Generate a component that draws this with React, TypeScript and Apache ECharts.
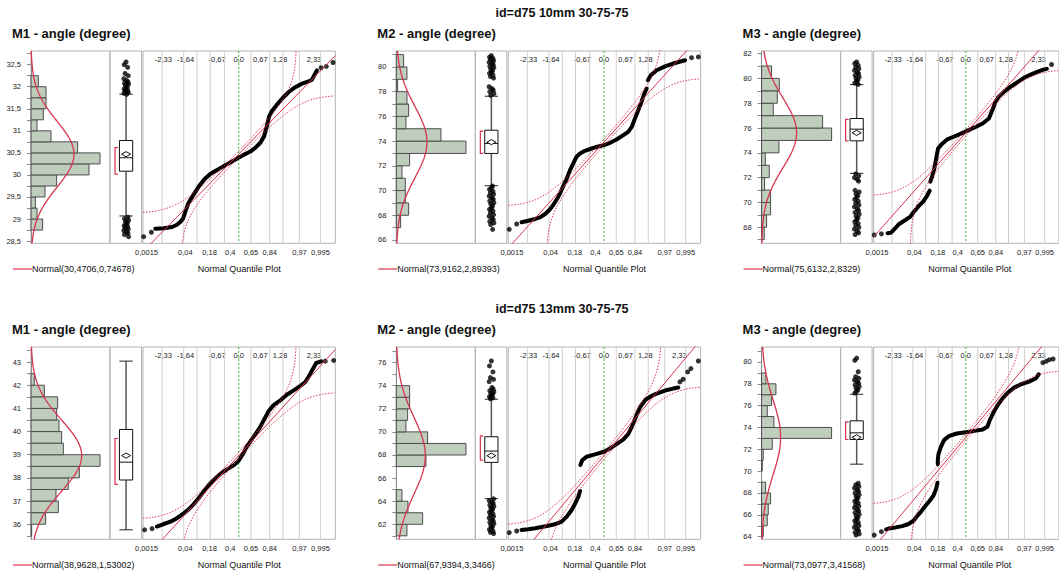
import React, { useEffect, useRef } from 'react';
import * as echarts from 'echarts';

const FONT = '"Liberation Sans", Arial, Helvetica, sans-serif';
const RED = '#d8344f';
const BAR_FILL = '#bfcdbd';
const BAR_STROKE = '#4d4d4d';
const GRID_COLOR = '#d0d0d0';
const FRAME = '#b4b4b4';

// ---- texts ----
const HEADERS = ['id=d75 10mm 30-75-75', 'id=d75 13mm 30-75-75'];
const TITLES = ['M1 - angle (degree)', 'M2 - angle (degree)', 'M3 - angle (degree)'];
const QQ_LABEL = 'Normal Quantile Plot';

// ---- quantile axis (normal quantile z) ----
const Q_MIN = -2.96;
const Q_MAX = 2.99;
const TOP_Z = [-2.33, -1.64, -0.67, 0, 0.67, 1.28, 2.33];
const TOP_Z_SHORT = [-2.33, -1.64, -0.67, 0, 0.67, 1.28];
const TOP_LABELS = ['-2,33', '-1,64', '-0,67', '0,0', '0,67', '1,28', '2,33'];
const BOTTOM_Z = [-2.85, -1.65, -0.9, -0.26, 0.38, 0.96, 1.88, 2.53];
const BOTTOM_LABELS = ['0,0015', '0,04', '0,18', '0,4', '0,65', '0,84', '0,97', '0,995'];
const GRID_Z = [-2.37, -1.7, -1.29, -0.88, -0.44, 0.38, 0.96, 1.37, 1.88, 2.53];
const BAND_D = 0.037;
const HIST_MAX = 237;

// ---- fitted normal parameters (legend) ----
const MEANS = [30.4706, 73.9162, 75.6132, 38.9628, 67.9394, 73.0977];
const SDS = [0.74678, 2.89393, 2.8329, 1.53002, 3.3466, 3.41568];
const CURVE_PEAKS = [129, 92, 105, 152, 87, 57];

// ---- axis ranges & tick labels ----
const RANGES = [[28.45, 32.81], [65.73, 81.29], [66.71, 82.21], [35.35, 43.65], [60.7, 77.35], [63.76, 81.37]];
const Y_LABELS = [
  [28.5, 29, 29.5, 30, 30.5, 31, 31.5, 32, 32.5],
  [66, 68, 70, 72, 74, 76, 78, 80],
  [68, 70, 72, 74, 76, 78, 80, 82],
  [36, 37, 38, 39, 40, 41, 42, 43],
  [62, 64, 66, 68, 70, 72, 74, 76],
  [64, 66, 68, 70, 72, 74, 76, 78, 80],
];
const Y_TICKS = [
  [28.5, 28.75, 29, 29.25, 29.5, 29.75, 30, 30.25, 30.5, 30.75, 31, 31.25, 31.5, 31.75, 32, 32.25, 32.5, 32.75],
  [66, 67, 68, 69, 70, 71, 72, 73, 74, 75, 76, 77, 78, 79, 80, 81],
  [67, 68, 69, 70, 71, 72, 73, 74, 75, 76, 77, 78, 79, 80, 81, 82],
  [35.5, 36, 36.5, 37, 37.5, 38, 38.5, 39, 39.5, 40, 40.5, 41, 41.5, 42, 42.5, 43, 43.5],
  [61, 62, 63, 64, 65, 66, 67, 68, 69, 70, 71, 72, 73, 74, 75, 76, 77],
  [64, 65, 66, 67, 68, 69, 70, 71, 72, 73, 74, 75, 76, 77, 78, 79, 80, 81],
];

// ---- histograms (bin lower edge + bar length) ----
const BIN_W = [0.25, 1, 1, 0.5, 1, 1];
const A1_BIN_LO = [28.75, 29, 29.25, 29.5, 29.75, 30, 30.25, 30.5, 30.75, 31, 31.25, 31.5, 31.75, 32];
const A1_COUNTS = [35, 18, 13, 42, 77, 174, 207, 140, 60, 18, 37, 45, 45, 22];
const A2_BIN_LO = [67, 68, 69, 70, 71, 72, 73, 74, 75, 76, 77, 78, 79, 80];
const A2_COUNTS = [13, 37, 27, 27, 17, 40, 209, 134, 29, 37, 32, 4, 32, 22];
const A3_BIN_LO = [67, 68, 69, 70, 71, 72, 73, 74, 75, 76, 77, 78, 79, 80];
const A3_COUNTS = [8, 15, 27, 27, 9, 23, 11, 52, 210, 183, 35, 47, 53, 30];
const B1_BIN_LO = [35.5, 36, 36.5, 37, 37.5, 38, 38.5, 39, 39.5, 40, 40.5, 41, 41.5, 42];
const B1_COUNTS = [2, 44, 82, 75, 112, 145, 207, 97, 92, 84, 77, 80, 40, 10];
const B2_BIN_LO = [61, 62, 63, 64, 67, 68, 69, 70, 71, 72, 73];
const B2_COUNTS = [32, 79, 35, 17, 89, 209, 94, 29, 34, 40, 40];
const B3_BIN_LO = [64, 65, 66, 67, 68, 70, 71, 72, 73, 74, 75, 76, 77, 78];
const B3_COUNTS = [5, 17, 20, 27, 12, 2, 5, 32, 210, 37, 17, 30, 43, 13];

// ---- box plots: q1, q3, median, whisker low, whisker high, shortest-half low, high ----
const A1_BOX = [30.085, 30.78, 30.39, 29.07, 31.83, 30.02, 30.62];
const A2_BOX = [73.0, 74.88, 73.81, 70.39, 77.63, 73.0, 74.8];
const A3_BOX = [74.97, 76.77, 75.91, 72.35, 79.5, 74.97, 76.7];
const B1_BOX = [37.91, 40.09, 38.68, 35.76, 43.04, 37.72, 39.7];
const B2_BOX = [67.36, 69.58, 68.34, 64.22, 72.83, 67.56, 69.66];
const B3_BOX = [72.9, 74.61, 73.51, 70.64, 77.04, 72.9, 74.51];

// ---- box plot outliers ----
const A1_OUT = [32.56, 32.5, 32.44, 32.3, 32.25, 32.18, 32.14, 32.11, 32.08, 32.06, 32.03, 32.0, 31.97, 31.95, 31.92, 31.9, 31.87, 31.85, 31.83,
  29.04, 29.01, 28.97, 28.94, 28.91, 28.88, 28.85, 28.83, 28.8, 28.77, 28.74, 28.71, 28.68, 28.65, 28.6];
const A2_OUT = [80.92, 80.8, 80.7, 80.62, 80.5, 80.38, 80.3, 80.18, 80.05, 79.95, 79.82, 79.7, 79.6, 79.48, 79.35, 79.22, 79.1,
  78.4, 78.25, 78.12, 78.0, 77.85, 77.7,
  70.36, 70.22, 70.1, 69.95, 69.82, 69.7, 69.55, 69.42, 69.3, 69.15, 69.02, 68.9, 68.75, 68.6, 68.48, 68.35, 68.2, 68.05, 67.92, 67.78, 67.65, 67.5, 67.38, 67.25, 66.85];
const A3_OUT = [81.33, 81.2, 81.05, 80.9, 80.78, 80.65, 80.5, 80.38, 80.25, 80.12, 80.0, 79.88, 79.75, 79.62, 79.52,
  72.3, 72.15, 72.0, 71.85, 71.72,
  70.98, 70.85, 70.7, 70.55, 70.4, 70.25, 70.1, 69.95, 69.8, 69.65, 69.5, 69.35, 69.2, 69.05, 68.9, 68.75, 68.6, 68.45, 68.3, 68.15, 68.0, 67.85, 67.7, 67.55, 67.42];
const B1_OUT: number[] = [];
const B2_OUT = [76.14, 75.71, 75.19, 74.7, 74.55, 74.35, 73.85, 73.7, 73.58, 73.46, 73.35, 73.25, 73.15, 73.05, 72.95, 72.87,
  64.2, 64.05, 63.92, 63.8, 63.68, 63.55, 63.42, 63.3, 63.18, 63.05, 62.92, 62.8, 62.68, 62.55, 62.42, 62.3, 62.18, 62.05, 61.92, 61.8, 61.68, 61.55, 61.42, 61.3, 61.2];
const B3_OUT = [80.35, 80.15, 79.1, 78.65, 78.5, 78.35, 78.2, 78.05, 77.9, 77.75, 77.6, 77.45, 77.3, 77.15,
  68.9, 68.75, 68.6, 68.45, 68.3, 68.15, 68.0, 67.85, 67.7, 67.55, 67.4, 67.25, 67.1, 66.95, 66.8, 66.65, 66.5, 66.35, 66.2, 66.05,
  65.9, 65.75, 65.6, 65.45, 65.3, 65.15, 65.0, 64.85, 64.7, 64.55, 64.4, 64.25, 64.15];
const JITTER = [0, -0.06, 0.05, -0.03, 0.07, -0.07, 0.02, 0.06, -0.05, 0.08, -0.02, 0.04];

// ---- normal quantile plots: [z, value] (dense runs as segments, sparse points separately) ----
const A1_QQ = [[
  [-2.58, 28.78], [-2.32, 28.79], [-2.06, 28.82], [-1.91, 28.87], [-1.8, 28.94], [-1.72, 29.01], [-1.64, 29.19], [-1.55, 29.37],
  [-1.39, 29.56], [-1.24, 29.73], [-1.06, 29.9], [-0.88, 30.02], [-0.67, 30.11], [-0.46, 30.2], [-0.26, 30.28], [-0.05, 30.37],
  [0.15, 30.45], [0.36, 30.53], [0.52, 30.62], [0.67, 30.73], [0.79, 30.88], [0.88, 31.13], [0.94, 31.32], [1.03, 31.45],
  [1.19, 31.6], [1.37, 31.75], [1.55, 31.88], [1.75, 31.99], [1.96, 32.07], [2.16, 32.12], [2.27, 32.16], [2.34, 32.26], [2.42, 32.37],
]];
const A1_TAIL = [[-2.94, 28.6], [-2.7, 28.7], [2.55, 32.43], [2.71, 32.46], [2.92, 32.55]];
const A2_QQ = [[
  [-2.55, 67.43], [-2.34, 67.56], [-2.13, 67.7], [-1.98, 67.83], [-1.82, 68.1], [-1.69, 68.42], [-1.57, 68.83], [-1.41, 69.5],
  [-1.29, 70.17], [-1.15, 70.98], [-1.05, 71.65], [-0.95, 72.19], [-0.85, 72.73], [-0.74, 73.0], [-0.59, 73.21], [-0.38, 73.4],
  [-0.18, 73.56], [0, 73.67], [0.19, 73.86], [0.39, 74.13], [0.6, 74.48], [0.75, 74.75], [0.86, 75.15], [0.96, 75.83],
  [1.06, 76.5], [1.16, 77.17], [1.25, 77.85], [1.32, 78.25],
], [
  [1.36, 78.92], [1.45, 79.33], [1.63, 79.73], [1.89, 80.05], [2.2, 80.32], [2.51, 80.54],
]];
const A2_TAIL = [[-2.93, 66.86], [-2.7, 67.29], [2.71, 80.75], [2.92, 80.81]];
const A3_QQ = [[
  [-2.51, 67.52], [-2.4, 67.57], [-2.3, 67.84], [-2.14, 68.27], [-1.94, 68.59], [-1.78, 68.86], [-1.68, 69.21], [-1.53, 69.66],
  [-1.37, 70.07], [-1.25, 70.52], [-1.16, 70.95],
], [
  [-1.14, 71.68], [-1.08, 72.1], [-1.01, 72.75], [-0.94, 73.69], [-0.89, 74.36], [-0.75, 74.76], [-0.6, 75.08], [-0.39, 75.3],
  [-0.19, 75.51], [0.02, 75.75], [0.28, 76.05], [0.54, 76.37], [0.74, 76.77], [0.85, 77.44], [0.95, 78.11], [1.05, 78.51],
  [1.26, 79.0], [1.46, 79.37], [1.67, 79.72], [1.88, 80.07], [2.08, 80.31], [2.29, 80.53], [2.49, 80.71], [2.6, 80.77],
]];
const A3_TAIL = [[-2.94, 67.38], [-2.71, 67.47], [2.75, 81.12]];
const B1_QQ = [[
  [-2.53, 35.9], [-2.32, 36.01], [-2.11, 36.11], [-1.91, 36.26], [-1.7, 36.47], [-1.55, 36.64], [-1.39, 36.87], [-1.24, 37.12],
  [-1.08, 37.41], [-0.93, 37.69], [-0.77, 37.91], [-0.57, 38.17], [-0.36, 38.37], [-0.15, 38.55], [0, 38.74], [0.13, 39.03],
  [0.26, 39.37], [0.46, 39.77], [0.67, 40.2], [0.82, 40.6], [0.93, 40.89], [1.08, 41.14], [1.29, 41.35], [1.49, 41.59],
  [1.7, 41.78], [1.91, 41.97], [2.06, 42.14], [2.16, 42.35], [2.27, 42.64], [2.4, 42.96], [2.55, 43.03],
]];
const B1_TAIL = [[-2.91, 35.76], [-2.68, 35.81], [2.68, 43.04], [2.94, 43.07]];
const B2_QQ = [[
  [-2.55, 61.51], [-2.34, 61.57], [-2.13, 61.65], [-1.93, 61.77], [-1.72, 61.88], [-1.52, 62.0], [-1.31, 62.23], [-1.15, 62.66],
  [-1.0, 63.24], [-0.88, 63.87], [-0.79, 64.39], [-0.74, 64.88],
], [
  [-0.73, 67.13], [-0.67, 67.56], [-0.54, 67.85], [-0.28, 68.05], [0, 68.28], [0.19, 68.57], [0.39, 68.94], [0.6, 69.35],
  [0.75, 69.81], [0.86, 70.44], [0.98, 71.25], [1.11, 72.11], [1.27, 72.74], [1.42, 73.03], [1.63, 73.32], [1.89, 73.58],
  [2.14, 73.75], [2.3, 73.84],
]];
const B2_TAIL = [[-2.93, 61.28], [-2.7, 61.42], [2.35, 74.33], [2.45, 74.56], [2.59, 75.19], [2.69, 75.48], [2.92, 76.14]];
const B3_QQ = [[
  [-2.56, 64.67], [-2.4, 64.79], [-2.25, 64.85], [-2.04, 64.97], [-1.84, 65.16], [-1.68, 65.46], [-1.58, 65.83], [-1.45, 66.25],
  [-1.32, 66.74], [-1.16, 67.29], [-1.03, 67.81], [-0.95, 68.42], [-0.91, 68.94],
], [
  [-0.9, 70.64], [-0.9, 71.01], [-0.88, 71.56], [-0.8, 72.23], [-0.7, 72.84], [-0.55, 73.2], [-0.29, 73.45], [0, 73.57],
  [0.28, 73.69], [0.54, 73.81], [0.69, 74.06], [0.77, 74.67], [0.88, 75.34], [1.0, 75.95], [1.15, 76.56], [1.34, 77.17],
  [1.55, 77.65], [1.77, 77.96], [2.03, 78.2], [2.24, 78.48], [2.34, 78.87],
]];
const B3_TAIL = [[-2.94, 64.15], [-2.71, 64.46], [2.47, 79.94], [2.58, 80.06], [2.68, 80.21], [2.8, 80.27]];

const BIN_LOS = [A1_BIN_LO, A2_BIN_LO, A3_BIN_LO, B1_BIN_LO, B2_BIN_LO, B3_BIN_LO];
const COUNTS = [A1_COUNTS, A2_COUNTS, A3_COUNTS, B1_COUNTS, B2_COUNTS, B3_COUNTS];
const BOXES = [A1_BOX, A2_BOX, A3_BOX, B1_BOX, B2_BOX, B3_BOX];
const OUTS = [A1_OUT, A2_OUT, A3_OUT, B1_OUT, B2_OUT, B3_OUT];
const QQS = [A1_QQ, A2_QQ, A3_QQ, B1_QQ, B2_QQ, B3_QQ];
const TAILS = [A1_TAIL, A2_TAIL, A3_TAIL, B1_TAIL, B2_TAIL, B3_TAIL];
const TOP_TICKS = [TOP_Z, TOP_Z_SHORT, TOP_Z, TOP_Z, TOP_Z, TOP_Z];

// ---- layout ----
const COL_STEP = 365.3;
const ROW_STEP = 296;
const PLOT_TOP = 51;
const PLOT_H = 192.3;
const HIST_LEFT = 31;
const HIST_W = 79;
const BOX_LEFT = 110;
const BOX_W = 31.5;
const QQ_LEFT = 143;
const QQ_W = 192.3;
const BOX_L = 0.3, BOX_R = 0.72, BOX_C = 0.51, BRACKET_X = 0.16;
const TICK_FONT = 7.5;
const TICK_COLOR = '#222';

// ---- helpers for the fitted normal ----
function normCdf(z: number) {
  const x = Math.abs(z) / Math.SQRT2;
  const t = 1 / (1 + 0.3275911 * x);
  const erf = 1 - ((((1.061405429 * t - 1.453152027) * t + 1.421413741) * t - 0.284496736) * t + 0.254829592) * t * Math.exp(-x * x);
  return z >= 0 ? 0.5 * (1 + erf) : 0.5 * (1 - erf);
}
function normInv(p: number) {
  const a = [-3.969683028665376e1, 2.209460984245205e2, -2.759285104469687e2, 1.38357751867269e2, -3.066479806614716e1, 2.506628277459239];
  const b = [-5.447609879822406e1, 1.615858368580409e2, -1.556989798598866e2, 6.680131188771972e1, -1.328068155288572e1];
  const c = [-7.784894002430293e-3, -3.223964580411365e-1, -2.400758277161838, -2.549732539343734, 4.374664141464968, 2.938163982698783];
  const d = [7.784695709041462e-3, 3.224671290700398e-1, 2.445134137142996, 3.754408661907416];
  const pl = 0.02425;
  if (p < pl) {
    const q = Math.sqrt(-2 * Math.log(p));
    return (((((c[0] * q + c[1]) * q + c[2]) * q + c[3]) * q + c[4]) * q + c[5]) / ((((d[0] * q + d[1]) * q + d[2]) * q + d[3]) * q + 1);
  }
  if (p <= 1 - pl) {
    const q = p - 0.5, r = q * q;
    return (((((a[0] * r + a[1]) * r + a[2]) * r + a[3]) * r + a[4]) * r + a[5]) * q / (((((b[0] * r + b[1]) * r + b[2]) * r + b[3]) * r + b[4]) * r + 1);
  }
  const q = Math.sqrt(-2 * Math.log(1 - p));
  return -(((((c[0] * q + c[1]) * q + c[2]) * q + c[3]) * q + c[4]) * q + c[5]) / ((((d[0] * q + d[1]) * q + d[2]) * q + d[3]) * q + 1);
}
const dec = (v: number) => String(v).replace('.', ',');
const lookup = (vals: number[], labels: string[], v: number) => {
  let best = 0;
  vals.forEach((x, i) => { if (Math.abs(x - v) < Math.abs(vals[best] - v)) best = i; });
  return labels[best];
};

function bandPoints(mu: number, sd: number, sign: number) {
  const zs: number[] = [];
  for (let z = Q_MIN; z <= Q_MAX + 1e-9; z += 0.02) zs.push(z);
  const eps = [1e-5, 1e-4, 5e-4, 1e-3, 2e-3, 4e-3];
  eps.forEach((e) => zs.push(sign < 0 ? normInv(BAND_D + e) : normInv(1 - BAND_D - e)));
  zs.sort((x, y) => x - y);
  const pts: number[][] = [];
  zs.forEach((z) => {
    const p = normCdf(z) + sign * BAND_D;
    if (p > 1e-6 && p < 1 - 1e-6) pts.push([z, mu + sd * normInv(p)]);
  });
  return pts;
}

const barRender = (params: any, api: any) => {
  const n = api.value(0), lo = api.value(1), hi = api.value(2);
  const p0 = api.coord([0, hi]);
  const p1 = api.coord([n, lo]);
  return {
    type: 'rect',
    shape: { x: p0[0], y: p0[1], width: p1[0] - p0[0], height: p1[1] - p0[1] },
    style: { fill: BAR_FILL, stroke: BAR_STROKE, lineWidth: 1 },
  };
};

const boxRender = (params: any, api: any) => {
  const v = (i: number) => api.value(i);
  const xc = v(0), q1 = v(1), q3 = v(2), med = v(3), mean = v(4), wlo = v(5), whi = v(6), blo = v(7), bhi = v(8);
  const c = (x: number, y: number) => api.coord([x, y]);
  const [xL, yQ3] = c(BOX_L, q3);
  const [xR, yQ1] = c(BOX_R, q1);
  const [xC, yMed] = c(xc, med);
  const yMean = c(xc, mean)[1];
  const yWlo = c(xc, wlo)[1];
  const yWhi = c(xc, whi)[1];
  const [xB, yBlo] = c(BRACKET_X, blo);
  const yBhi = c(BRACKET_X, bhi)[1];
  return {
    type: 'group',
    children: [
      { type: 'line', shape: { x1: xC, y1: yWhi, x2: xC, y2: yQ3 }, style: { stroke: '#555', lineWidth: 1.5 } },
      { type: 'line', shape: { x1: xC, y1: yQ1, x2: xC, y2: yWlo }, style: { stroke: '#555', lineWidth: 1.5 } },
      { type: 'line', shape: { x1: xL, y1: yWhi, x2: xR, y2: yWhi }, style: { stroke: '#222', lineWidth: 1 } },
      { type: 'line', shape: { x1: xL, y1: yWlo, x2: xR, y2: yWlo }, style: { stroke: '#222', lineWidth: 1 } },
      { type: 'rect', shape: { x: xL, y: yQ3, width: xR - xL, height: yQ1 - yQ3 }, style: { fill: '#fff', stroke: '#111', lineWidth: 1 } },
      { type: 'line', shape: { x1: xL, y1: yMed, x2: xR, y2: yMed }, style: { stroke: '#111', lineWidth: 1 } },
      {
        type: 'polygon',
        shape: { points: [[xC - 4.5, yMean], [xC, yMean - 2.6], [xC + 4.5, yMean], [xC, yMean + 2.6]] },
        style: { fill: '#fff', stroke: '#111', lineWidth: 1 },
      },
      {
        type: 'polyline',
        shape: { points: [[xB + 3, yBhi], [xB, yBhi], [xB, yBlo], [xB + 3, yBlo]] },
        style: { stroke: RED, lineWidth: 1.2, fill: 'none' },
      },
    ],
  };
};

const vlineRender = (color: string, dash: number[] | null) => (params: any, api: any) => {
  const x = api.coord([api.value(0), api.value(1)])[0];
  const cs = params.coordSys;
  return {
    type: 'line',
    shape: { x1: x, y1: cs.y, x2: x, y2: cs.y + cs.height },
    style: { stroke: color, lineWidth: 1, lineDash: dash || undefined },
  };
};

function buildOption() {
  const grid: any[] = [];
  const xAxis: any[] = [];
  const yAxis: any[] = [];
  const series: any[] = [];
  const graphic: any[] = [];
  const text = (x: number, y: number, t: string, size: number, weight: string, align: string) => ({
    type: 'text', x, y, silent: true,
    style: { text: t, fill: '#111', fontSize: size, fontWeight: weight, fontFamily: FONT, textAlign: align, textVerticalAlign: 'middle' },
  });

  HEADERS.forEach((h, r) => graphic.push(text(562, 13 + r * ROW_STEP, h, 12.5, 'bold', 'center')));

  for (let k = 0; k < 6; k++) {
    const r = Math.floor(k / 3), col = k % 3;
    const ox = col * COL_STEP, oy = r * ROW_STEP;
    const top = PLOT_TOP + oy;
    const [ymin, ymax] = RANGES[k];
    const mu = MEANS[k], sd = SDS[k];
    const g = 3 * k, xa = 4 * k, ya = 3 * k;

    grid.push({ left: HIST_LEFT + ox, top, width: HIST_W, height: PLOT_H, show: true, borderColor: FRAME, borderWidth: 1 });
    grid.push({ left: BOX_LEFT + ox, top, width: BOX_W, height: PLOT_H, show: true, borderColor: FRAME, borderWidth: 1 });
    grid.push({ left: QQ_LEFT + ox, top, width: QQ_W, height: PLOT_H, show: true, borderColor: FRAME, borderWidth: 1 });

    xAxis.push({ gridIndex: g, type: 'value', min: 0, max: HIST_MAX, show: false });
    xAxis.push({ gridIndex: g + 1, type: 'value', min: 0, max: 1, show: false });
    xAxis.push({
      gridIndex: g + 2, type: 'value', min: Q_MIN, max: Q_MAX, position: 'bottom',
      axisLine: { show: false }, axisTick: { show: false }, splitLine: { show: false },
      axisLabel: { customValues: BOTTOM_Z, formatter: (v: number) => lookup(BOTTOM_Z, BOTTOM_LABELS, v), fontSize: TICK_FONT, color: TICK_COLOR, margin: 5, fontFamily: FONT },
    });
    xAxis.push({
      gridIndex: g + 2, type: 'value', min: Q_MIN, max: Q_MAX, position: 'top',
      axisLine: { show: false }, axisTick: { show: false }, splitLine: { show: false },
      axisLabel: { inside: true, customValues: TOP_TICKS[k], formatter: (v: number) => lookup(TOP_Z, TOP_LABELS, v), fontSize: TICK_FONT, color: TICK_COLOR, margin: 4, fontFamily: FONT },
    });

    yAxis.push({
      gridIndex: g, type: 'value', min: ymin, max: ymax,
      axisLine: { show: true, lineStyle: { color: '#8a8a8a' } },
      axisTick: { show: true, customValues: Y_TICKS[k], length: 4, lineStyle: { color: '#8a8a8a' } },
      axisLabel: { customValues: Y_LABELS[k], formatter: (v: number) => dec(v), fontSize: TICK_FONT, color: TICK_COLOR, margin: 10, fontFamily: FONT },
      splitLine: { show: false },
    });
    yAxis.push({ gridIndex: g + 1, type: 'value', min: ymin, max: ymax, show: false });
    yAxis.push({ gridIndex: g + 2, type: 'value', min: ymin, max: ymax, show: false });

    // histogram
    series.push({
      type: 'custom', xAxisIndex: xa, yAxisIndex: ya, renderItem: barRender, z: 2, silent: true,
      data: COUNTS[k].map((n, i) => [n, BIN_LOS[k][i], BIN_LOS[k][i] + BIN_W[k]]),
    });
    const curve: number[][] = [];
    for (let i = 0; i <= 200; i++) {
      const y = ymin + ((ymax - ymin) * i) / 200;
      curve.push([CURVE_PEAKS[k] * Math.exp(-0.5 * ((y - mu) / sd) ** 2), y]);
    }
    series.push({
      type: 'line', xAxisIndex: xa, yAxisIndex: ya, data: curve, showSymbol: false, symbol: 'none', z: 3, silent: true,
      lineStyle: { color: RED, width: 1.3 },
    });

    // box plot
    const b = BOXES[k];
    series.push({
      type: 'custom', xAxisIndex: xa + 1, yAxisIndex: ya + 1, renderItem: boxRender, z: 2, silent: true,
      data: [[BOX_C, b[0], b[1], b[2], mu, b[3], b[4], b[5], b[6]]],
    });
    series.push({
      type: 'scatter', xAxisIndex: xa + 1, yAxisIndex: ya + 1, symbolSize: 5, silent: true, z: 3,
      itemStyle: { color: '#000' },
      data: OUTS[k].map((y, i) => [BOX_C + JITTER[i % JITTER.length], y]),
    });

    // quantile plot
    series.push({
      type: 'custom', xAxisIndex: xa + 2, yAxisIndex: ya + 2, renderItem: vlineRender(GRID_COLOR, null), z: 1, silent: true,
      data: GRID_Z.map((z) => [z, ymin]),
    });
    series.push({
      type: 'custom', xAxisIndex: xa + 2, yAxisIndex: ya + 2, renderItem: vlineRender('#2fbf2f', [2, 2]), z: 1, silent: true,
      data: [[0, ymin]],
    });
    QQS[k].forEach((seg) => {
      series.push({
        type: 'line', xAxisIndex: xa + 2, yAxisIndex: ya + 2, data: seg, showSymbol: false, symbol: 'none', z: 2, silent: true,
        lineStyle: { color: '#000', width: 4, cap: 'round', join: 'round' },
      });
    });
    series.push({
      type: 'scatter', xAxisIndex: xa + 2, yAxisIndex: ya + 2, data: TAILS[k], symbolSize: 5, z: 2, silent: true,
      itemStyle: { color: '#000' },
    });
    series.push({
      type: 'line', xAxisIndex: xa + 2, yAxisIndex: ya + 2, showSymbol: false, symbol: 'none', z: 4, silent: true,
      data: [[Q_MIN, mu + sd * Q_MIN], [Q_MAX, mu + sd * Q_MAX]],
      lineStyle: { color: RED, width: 1 },
    });
    [-1, 1].forEach((sgn) => {
      series.push({
        type: 'line', xAxisIndex: xa + 2, yAxisIndex: ya + 2, showSymbol: false, symbol: 'none', z: 4, silent: true,
        data: bandPoints(mu, sd, sgn),
        lineStyle: { color: RED, width: 1, type: [1.5, 1.5] },
      });
    });

    // texts
    graphic.push(text(12 + ox, 33 + oy, TITLES[col], 13, 'bold', 'left'));
    graphic.push({
      type: 'line', silent: true,
      shape: { x1: 13 + ox, y1: 269 + oy, x2: 32 + ox, y2: 269 + oy },
      style: { stroke: RED, lineWidth: 1.2 },
    });
    graphic.push(text(32 + ox, 269 + oy, `Normal(${dec(mu)},${dec(sd)})`, 9, 'normal', 'left'));
    graphic.push(text(QQ_LEFT + ox + QQ_W / 2, 269 + oy, QQ_LABEL, 9, 'normal', 'center'));
  }

  return {
    animation: false,
    backgroundColor: '#ffffff',
    textStyle: { fontFamily: FONT },
    grid, xAxis, yAxis, series, graphic,
  };
}

export default function App() {
  const ref = useRef<HTMLDivElement>(null);
  useEffect(() => {
    document.body.style.margin = '0';
    if (!ref.current) return;
    const chart = echarts.init(ref.current, null, { renderer: 'svg', width: 1059, height: 576 });
    chart.setOption(buildOption() as any);
    return () => chart.dispose();
  }, []);
  return <div ref={ref} style={{ width: 1059, height: 576 }} />;
}
